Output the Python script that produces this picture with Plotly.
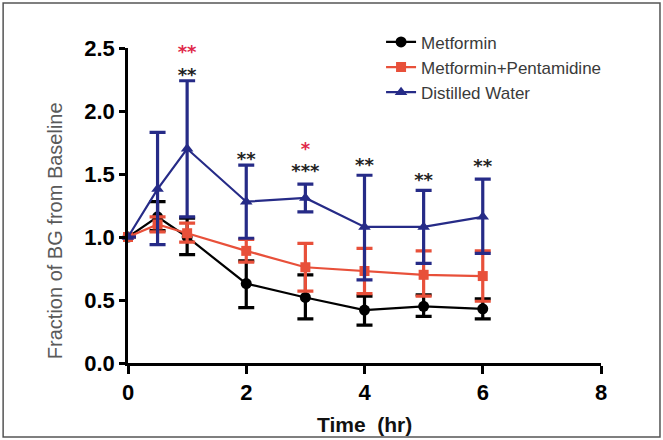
import plotly.graph_objects as go

time = [0, 0.5, 1, 2, 3, 4, 5, 6]

met_mean = [1.00, 1.16, 1.00, 0.63, 0.52, 0.42, 0.45, 0.43]
met_hi = [0.00, 0.12, 0.15, 0.18, 0.18, 0.11, 0.09, 0.08]
met_lo = [0.00, 0.11, 0.14, 0.19, 0.17, 0.12, 0.08, 0.08]

pen_mean = [1.00, 1.10, 1.03, 0.89, 0.76, 0.73, 0.70, 0.69]
pen_hi = [0.00, 0.06, 0.08, 0.09, 0.19, 0.18, 0.19, 0.20]
pen_lo = [0.00, 0.06, 0.07, 0.09, 0.19, 0.18, 0.17, 0.20]

dw_mean = [1.00, 1.38, 1.70, 1.28, 1.31, 1.08, 1.08, 1.16]
dw_hi = [0.00, 0.45, 0.54, 0.29, 0.11, 0.41, 0.29, 0.30]
dw_lo = [0.00, 0.44, 0.54, 0.29, 0.11, 0.42, 0.29, 0.29]

star_x = [1, 1, 2, 3, 3, 4, 5, 6]
star_y = [2.46, 2.27, 1.61, 1.69, 1.51, 1.56, 1.44, 1.55]
star_text = ["**", "**", "**", "*", "***", "**", "**", "**"]
star_color = ["#e0284a", "#222222", "#222222", "#e0284a", "#222222", "#222222", "#222222", "#222222"]

x_ticks = [0, 2, 4, 6, 8]
y_ticks = [0.0, 0.5, 1.0, 1.5, 2.0, 2.5]

BLACK = "#000000"
RED = "#e8503a"
BLUE = "#262b87"
FONT = "Liberation Sans, Arial"

fig = go.Figure()

def add_series(name, y, hi, lo, color, symbol, size, group):
    fig.add_trace(go.Scatter(
        x=time, y=y, name=name, mode="lines+markers",
        line=dict(color=color, width=2.2),
        marker=dict(color=color, symbol=symbol, size=size),
        error_y=dict(type="data", symmetric=False, array=hi, arrayminus=lo,
                     color=color, thickness=3.2, width=8),
        legendgroup=group, cliponaxis=False,
    ))

add_series("Metformin", met_mean, met_hi, met_lo, BLACK, "circle", 11, "a")
add_series("Metformin+Pentamidine", pen_mean, pen_hi, pen_lo, RED, "square", 10, "b")
add_series("Distilled Water", dw_mean, dw_hi, dw_lo, BLUE, "triangle-up", 11, "c")

fig.add_trace(go.Scatter(
    x=star_x, y=star_y, mode="text", text=star_text,
    textposition="middle center",
    textfont=dict(color=star_color, size=18, family="DejaVu Sans", weight="bold"),
    showlegend=False, cliponaxis=False, hoverinfo="skip",
))

fig.update_layout(
    width=663, height=440,
    margin=dict(l=128, r=62, t=48, b=77, autoexpand=False),
    paper_bgcolor="white", plot_bgcolor="white",
    font=dict(family=FONT, color="#000"),
    showlegend=True,
    legend=dict(x=0.535, y=1.075, xanchor="left", yanchor="top",
                font=dict(size=17, color="#3a3a3a"),
                bgcolor="rgba(0,0,0,0)", traceorder="grouped",
                tracegroupgap=0, itemwidth=30),
    xaxis=dict(range=[0, 8], tickvals=x_ticks, ticktext=[str(v) for v in x_ticks],
               automargin=False,
               showgrid=False, zeroline=False, showline=True, linecolor="#000",
               linewidth=2.5, ticks="outside", ticklen=8, tickwidth=2.5, tickcolor="#000",
               tickfont=dict(size=22, family=FONT, color="#000", weight="bold")),
    yaxis=dict(range=[0, 2.5], tickvals=y_ticks, ticktext=["%.1f" % v for v in y_ticks],
               automargin=False,
               showgrid=False, zeroline=False, showline=True, linecolor="#000",
               linewidth=2.5, ticks="outside", ticklen=6, tickwidth=2.5, tickcolor="#000",
               tickfont=dict(size=22, family=FONT, color="#000", weight="bold")),
    annotations=[
        dict(text="Fraction of BG from Baseline", xref="paper", yref="paper",
             x=-0.154, y=0.419, textangle=-90, showarrow=False,
             xanchor="center", yanchor="middle",
             font=dict(size=20, color="#5a5a5a", family=FONT)),
        dict(text="<b>Time  (hr)</b>", xref="paper", yref="paper",
             x=0.5, y=-0.194, showarrow=False, xanchor="center", yanchor="middle",
             font=dict(size=21, color="#111", family=FONT)),
    ],
    shapes=[dict(type="rect", xref="paper", yref="paper",
                 x0=-0.264, x1=1.1247, y0=-0.2349, y1=1.1429,
                 line=dict(color="#555", width=1.5))],
)

fig.write_html("out.html")
